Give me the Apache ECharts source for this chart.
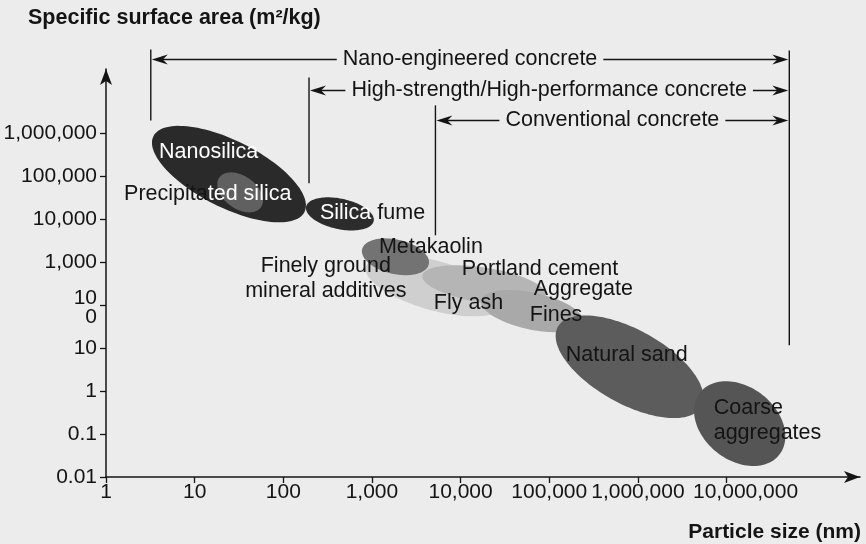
<!DOCTYPE html>
<html>
<head>
<meta charset="utf-8">
<script src="https://cdn.jsdelivr.net/npm/echarts@6/dist/echarts.min.js"></script>
<style>
  html, body { margin: 0; padding: 0; background: #ececec; }
  #chart { width: 866px; height: 544px; }
</style>
</head>
<body>
<div id="chart"></div>
<script>
// Particle size (nm) and specific surface area (m2/kg) ranges of concrete constituents
const materials = ['Nanosilica', 'Precipitated silica', 'Silica fume', 'Fly ash', 'Portland cement',
                   'Aggregate fines', 'Metakaolin', 'Natural sand', 'Coarse aggregates'];
const sizeMin = [3.3, 18, 180, 850, 3700, 17000, 770, 118000, 4.3e6];
const sizeMax = [180, 59, 1050, 32000, 91000, 240000, 4400, 5.5e6, 4.6e7];
const areaMin = [8500, 14500, 5500, 55, 100, 23.5, 500, 0.235, 0.018];
const areaMax = [1.5e6, 124000, 32500, 1450, 850, 225, 3600, 58, 1.7];
// correlation of log size and log area inside each range (negative: finer = larger surface)
const tilt = [-0.65, -0.4, -0.35, -0.55, -0.45, -0.45, -0.3, -0.6, -0.3];

// Axis ticks
const sizeTicks = [1, 10, 100, 1000, 1e4, 1e5, 1e6, 1e7];
const sizeTickLabels = ['1', '10', '100', '1,000', '10,000', '100,000', '1,000,000', '{shift|10,000,000}'];
const areaTicks = [0.01, 0.1, 1, 10, 100, 1000, 1e4, 1e5, 1e6];
const areaTickLabels = ['0.01', '0.1', '1', '10', '{low|10\n0}', '1,000', '10,000', '100,000', '1,000,000'];

// Concrete classes and the particle-size span each one uses
const concreteClasses = ['Nano-engineered concrete', 'High-strength/High-performance concrete', 'Conventional concrete'];
const classSizeFrom = [3.2, 195, 5200];
const classSizeTo = [5.1e7, 5.1e7, 5.1e7];

// ---- layout / styling ----
const FONT = '"Liberation Sans", Arial, Helvetica, sans-serif';
const BG = '#ececec';
const INK = '#141414';
const LABEL_SIZE = 21.5;
const fills = ['#2a2a2a', '#606060', '#2c2c2c', '#cfcfcf', '#b5b5b5', '#a9a9a9', '#737373', '#5c5c5c', '#555555'];

// label anchors (data space) for the material names
const labels = [
  { text: 'Nanosilica', at: [3.96, 3.6e5], color: '#ffffff' },
  { text: '{k|Precipita}{w|ted silica}', at: [1.6, 3.8e4] },
  { text: '{w|Silica} {k|fume}', at: [259, 13800] },
  { text: 'Metakaolin', at: [1197, 2233] },
  { text: 'Finely ground\nmineral additives', at: [302, 425], align: 'center' },
  { text: 'Portland cement', at: [10300, 687] },
  { text: 'Fly ash', at: [4990, 111] },
  { text: 'Aggregate', at: [66900, 236] },
  { text: 'Fines', at: [60300, 58.5] },
  { text: 'Natural sand', at: [153600, 6.87] },
  { text: 'Coarse\naggregates', at: [7.16e6, 0.206] }
];

// bracket geometry for the concrete classes (data space, y in m2/kg units)
const classArrowLevel = [5.25e7, 1.0e7, 2.0e6];
const classTickTop = [9.0e7, 2.0e7, 4.5e6];
const classTickBottom = [2.0e6, 6.9e4, 4250];
const classEndTop = 8.5e7, classEndBottom = 11.7;

function tickLabel(ticks, names) {
  return function (v) {
    let best = 0, d = Infinity;
    ticks.forEach(function (t, i) {
      const dd = Math.abs(Math.log10(t) - Math.log10(v));
      if (dd < d) { d = dd; best = i; }
    });
    return d < 0.01 ? names[best] : '';
  };
}

const axisLineStyle = { color: INK, width: 1.5 };

const chart = echarts.init(document.getElementById('chart'), null, { renderer: 'canvas' });

const option = {
  backgroundColor: BG,
  animation: false,
  title: [
    { text: 'Specific surface area (m\u00b2/kg)', left: 28, top: 7, padding: 0,
      textStyle: { fontFamily: FONT, fontSize: 21.5, fontWeight: 'bold', color: INK } },
    { text: 'Particle size (nm)', right: 5, top: 522, padding: 0,
      textStyle: { fontFamily: FONT, fontSize: 21, fontWeight: 'bold', color: INK } }
  ],
  grid: { left: 106, right: 6, top: 69, bottom: 67 },
  xAxis: {
    type: 'log', logBase: 10, min: 1, max: 3.2e8,
    axisLine: { show: true, onZero: false, symbol: ['none', 'arrow'], symbolSize: [9, 16], lineStyle: axisLineStyle },
    axisTick: { show: true, length: 6, customValues: sizeTicks, lineStyle: { color: INK, width: 1.3 } },
    axisLabel: { customValues: sizeTicks, formatter: tickLabel(sizeTicks, sizeTickLabels),
      interval: 0, hideOverlap: false,
      fontFamily: FONT, fontSize: 21, color: INK, margin: 5,
      rich: { shift: { fontFamily: FONT, fontSize: 21, color: INK, padding: [0, 0, 0, 38] } } },
    splitLine: { show: false }
  },
  yAxis: {
    type: 'log', logBase: 10, min: 0.01, max: Math.pow(10, 7.5),
    axisLine: { show: true, onZero: false, symbol: ['none', 'arrow'], symbolSize: [9, 16], lineStyle: axisLineStyle },
    axisTick: { show: true, length: 6, customValues: areaTicks, lineStyle: { color: INK, width: 1.3 } },
    axisLabel: { customValues: areaTicks, formatter: tickLabel(areaTicks, areaTickLabels),
      interval: 0, hideOverlap: false,
      fontFamily: FONT, fontSize: 21, color: INK, margin: 9,
      rich: { low: { fontFamily: FONT, fontSize: 21, color: INK, lineHeight: 19, padding: [5, 0, 0, 0] } } },
    splitLine: { show: false }
  },
  series: [
    {
      // material ranges drawn as tilted ellipses in log-log space
      type: 'custom',
      name: 'materials',
      clip: false,
      data: materials.map(function (m, i) {
        return { name: m, value: [Math.sqrt(sizeMin[i] * sizeMax[i]), Math.sqrt(areaMin[i] * areaMax[i])] };
      }),
      encode: { x: 0, y: 1 },
      renderItem: function (params, api) {
        const i = params.dataIndex;
        const x0 = Math.log10(sizeMin[i]), x1 = Math.log10(sizeMax[i]);
        const y0 = Math.log10(areaMin[i]), y1 = Math.log10(areaMax[i]);
        const cx = (x0 + x1) / 2, rx = (x1 - x0) / 2;
        const cy = (y0 + y1) / 2, ry = (y1 - y0) / 2;
        const r = tilt[i], s = Math.sqrt(1 - r * r);
        const pts = [];
        const n = 120;
        for (let k = 0; k < n; k++) {
          const t = 2 * Math.PI * k / n;
          const lx = cx + rx * Math.cos(t);
          const ly = cy + ry * (r * Math.cos(t) + s * Math.sin(t));
          pts.push(api.coord([Math.pow(10, lx), Math.pow(10, ly)]));
        }
        return { type: 'polygon', shape: { points: pts }, style: { fill: fills[i] } };
      },
      z: 2
    },
    {
      // material names
      type: 'custom',
      name: 'labels',
      clip: false,
      silent: true,
      data: labels.map(function (l) { return l.at; }),
      renderItem: function (params, api) {
        const l = labels[params.dataIndex];
        const p = api.coord(l.at);
        return {
          type: 'text', x: p[0], y: p[1],
          style: {
            text: l.text, fill: l.color || INK,
            fontFamily: FONT, fontSize: LABEL_SIZE,
            align: l.align || 'left', verticalAlign: 'middle', lineHeight: 25,
            rich: {
              k: { fill: INK, fontFamily: FONT, fontSize: LABEL_SIZE },
              w: { fill: '#ffffff', fontFamily: FONT, fontSize: LABEL_SIZE }
            }
          }
        };
      },
      z: 5
    },
    {
      // concrete class spans: bracket lines with double arrows
      type: 'custom',
      name: 'classes',
      clip: false,
      silent: true,
      data: concreteClasses.map(function (c, i) { return [classSizeFrom[i], classArrowLevel[i]]; }),
      renderItem: function (params, api) {
        const i = params.dataIndex;
        const a = api.coord([classSizeFrom[i], classArrowLevel[i]]);
        const b = api.coord([classSizeTo[i], classArrowLevel[i]]);
        const tTop = api.coord([classSizeFrom[i], classTickTop[i]]);
        const tBot = api.coord([classSizeFrom[i], classTickBottom[i]]);
        const lineStyle = { stroke: INK, lineWidth: 1.4 };
        const y = a[1];
        const children = [
          { type: 'line', shape: { x1: tTop[0], y1: tTop[1], x2: tBot[0], y2: tBot[1] }, style: lineStyle },
          { type: 'line', shape: { x1: a[0] + 6, y1: y, x2: b[0] - 6, y2: y }, style: lineStyle },
          { type: 'polygon', shape: { points: [[a[0] + 1, y], [a[0] + 17, y - 5], [a[0] + 12, y], [a[0] + 17, y + 5]] }, style: { fill: INK } },
          { type: 'polygon', shape: { points: [[b[0] - 1, y], [b[0] - 17, y - 5], [b[0] - 12, y], [b[0] - 17, y + 5]] }, style: { fill: INK } },
          { type: 'text', x: (a[0] + b[0]) / 2, y: y,
            style: { text: concreteClasses[i], fill: INK, fontFamily: FONT, fontSize: LABEL_SIZE,
              align: 'center', verticalAlign: 'middle', backgroundColor: BG, padding: [1, 6] } }
        ];
        if (i === 0) {
          const eTop = api.coord([classSizeTo[0], classEndTop]);
          const eBot = api.coord([classSizeTo[0], classEndBottom]);
          children.push({ type: 'line', shape: { x1: eTop[0], y1: eTop[1], x2: eBot[0], y2: eBot[1] }, style: lineStyle });
        }
        return { type: 'group', children: children };
      },
      z: 4
    }
  ]
};

chart.setOption(option);
</script>
</body>
</html>
